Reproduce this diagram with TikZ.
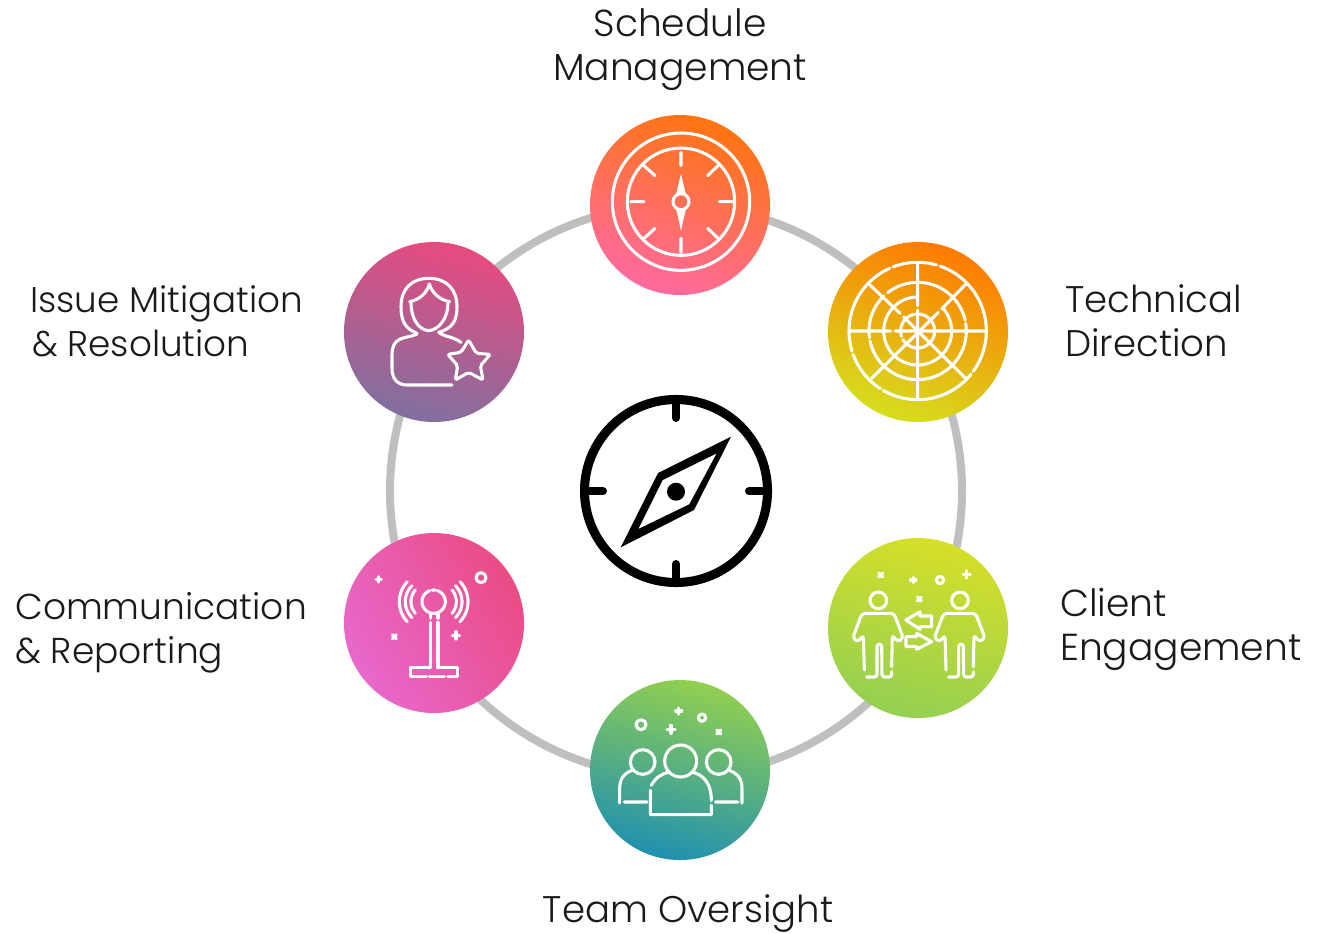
\documentclass[tikz,border=0pt]{standalone}
\usepackage{fontspec}
\setmainfont{Poppins Light}
\tikzset{
  ring/.style={draw=ringgrey,line width=6pt},
  disc/.style={circle,minimum size=135pt,inner sep=0pt,shade},
  lbl/.style={font=\fontsize{#1}{33}\selectfont,text=labeltext,inner sep=0pt},
  icon/.style={draw=white,line width=2.3pt,line cap=round,line join=round},
  icons/.style={shift={#1},x=0.25pt,y=-0.25pt},
}
\definecolor{ringgrey}{HTML}{BFBFBF}
\definecolor{labeltext}{HTML}{1A1A1A}
\definecolor{orangeA}{HTML}{FF7510}
\definecolor{pinkA}{HTML}{FF6AA0}
\definecolor{orangeB}{HTML}{FF7A00}
\definecolor{yellowB}{HTML}{D6DE1E}
\definecolor{yellowC}{HTML}{D6DF28}
\definecolor{greenC}{HTML}{94D052}
\definecolor{greenD}{HTML}{92D050}
\definecolor{midD}{HTML}{74BC84}
\definecolor{tealD}{HTML}{2090B0}
\definecolor{pinkE}{HTML}{EA4C85}
\definecolor{magentaE}{HTML}{E868CC}
\definecolor{pinkF}{HTML}{E84A80}
\definecolor{purpleF}{HTML}{80709F}
\newcommand\mkplus[3]{\draw[icon] (#1-#3,#2)--(#1+#3,#2) (#1,#2-#3)--(#1,#2+#3);}
\newcommand\mkcross[3]{\draw[icon] (#1-#3,#2-#3)--(#1+#3,#2+#3) (#1+#3,#2-#3)--(#1-#3,#2+#3);}
\newcommand\rarc[5]{plot[domain=#4:#5,samples=40,smooth] ({#1+#3*cos(\x)},{#2+#3*sin(\x)})}
\begin{document}
\begin{tikzpicture}[x=0.75pt,y=-0.75pt]
\useasboundingbox (0,0) rectangle (1319,933);
\fill[white] (0,0) rectangle (1319,933);
% ring
\coordinate (hub) at (676,491);
\draw[ring] (hub) circle[radius=286];
% discs
\node[disc,top color=orangeA,bottom color=pinkA,shading angle=-20] (schedule) at (680,205) {};
\node[disc,top color=orangeB,bottom color=yellowB,shading angle=-20] (technical) at (918,332) {};
\node[disc,top color=yellowC,bottom color=greenC,shading angle=-15] (client) at (918,628) {};
\node[disc,top color=greenD,middle color=midD,bottom color=tealD,shading angle=-15] (team) at (680,770) {};
\node[disc,top color=pinkE,bottom color=magentaE,shading angle=-60] (comm) at (434,623) {};
\node[disc,top color=pinkF,bottom color=purpleF,shading angle=-15] (issue) at (434,332) {};
% labels
\node[lbl=28.2,align=center] (lschedule) at (680,50) {Schedule\\Management};
\node[lbl=27.8,align=left,anchor=west] (ltechnical) at (1065,321) {Technical\\Direction};
\node[lbl=28.2,align=left,anchor=west] (lclient) at (1060,629) {Client\\Engagement};
\node[lbl=27.8] (lteam) at (688,914) {Team Oversight};
\node[lbl=27,align=left,anchor=west] (lcomm) at (15,633) {Communication\\\& Reporting};
\node[lbl=26.8,align=left,anchor=west] (lissue) at (30,321) {Issue Mitigation\\\hspace*{1.5pt}\& Resolution};
% central compass
\draw[line width=6.8pt] (hub) circle[radius=91.5];
\draw[line width=6pt,line cap=round] (676,402)--(676,418) (676,564)--(676,580) (587,491)--(603,491) (749,491)--(765,491);
\fill[even odd rule] (731,436.7)--(658,473)--(620.7,547.3)--(694,510)--cycle
  (716.7,453.3)--(662.7,480)--(638.3,529)--(689.3,504.3)--cycle;
\fill (676,491.7) circle[radius=9];
% schedule icon
\begin{scope}[icons={(580,105)}]
\draw[icon] (303,290) circle[radius=206] (303,290) circle[radius=161] (303,290) circle[radius=24];
\draw[icon] (303,142)--(303,182) (303,400)--(303,442) (152,290)--(192,290) (418,290)--(458,290)
  (192,182)--(225,212) (414,182)--(383,212) (192,400)--(225,370) (414,400)--(383,370);
\fill[white] (303,206)--(311,240)--(318,268)--(288,268)--(295,240)--cycle;
\fill[white] (303,378)--(311,340)--(318,312)--(288,312)--(295,340)--cycle;
\end{scope}
% technical icon
\begin{scope}[icons={(820,235)}]
\draw[icon] \rarc{293}{288}{206}{-71}{36} \rarc{293}{288}{206}{39}{120} \rarc{293}{288}{206}{123}{160}
  \rarc{293}{288}{206}{163}{246} \rarc{293}{288}{206}{249}{286};
\draw[icon] \rarc{293}{288}{146}{-128}{-13} \rarc{293}{288}{146}{-9}{168} \rarc{293}{288}{146}{172}{226};
\draw[icon] \rarc{293}{288}{102}{-40}{68} \rarc{293}{288}{102}{71}{222} \rarc{293}{288}{102}{228}{268};
\draw[icon] \rarc{293}{288}{51}{-100}{150} \rarc{293}{288}{51}{162}{255};
\draw[icon] (88,288)--(212,288) (225,288)--(498,288) (293,84)--(293,212) (293,225)--(293,490)
  (150,150)--(240,235) (250,245)--(437,430) (437,148)--(365,222) (355,232)--(155,430);
\end{scope}
% client icon
\begin{scope}[icons={(820,530)}]
\foreach \dx in {0,245}{
\begin{scope}[xshift=\dx*0.25pt]
\draw[icon] (175,211) circle[radius=25];
\draw[icon,rounded corners=2.5pt] (133,420)--(130,315)--(114,336)--(98,324)--(126,250)--(222,250)--(250,324)--(234,336)--(217,315)--(215,410);
\draw[icon,rounded corners=2pt] (140,441)--(171,441)--(171,342)--(185,342)--(186,441)--(215,441)--(215,425);
\end{scope}}
\draw[icon] (258,270)--(300,245)--(300,258)--(335,258)--(335,290)--(300,290)--(300,298)--cycle;
\draw[icon] (335,335)--(290,310)--(290,320)--(258,320)--(258,350)--(290,350)--(290,358)--cycle;
\mkcross{182}{135}{6}\mkplus{280}{150}{8}\mkplus{440}{133}{11}\mkcross{298}{207}{6}
\draw[icon] (360,150) circle[radius=11];
\end{scope}
% team icon
\begin{scope}[icons={(582,672)}]
\draw[icon] (296,267) circle[radius=48] (182,270) circle[radius=37] (410,270) circle[radius=37];
\draw[icon] (388,400)--(388,428)--(205,428)--(205,355) (208,340) .. controls (222,315) and (240,305) .. (262,300)
  (330,300) .. controls (365,308) and (388,335) .. (388,385);
\draw[icon] (150,295) .. controls (125,305) and (113,320) .. (113,350)--(113,393) (127,390)--(195,390);
\draw[icon] (442,295) .. controls (467,305) and (480,320) .. (480,350)--(480,393) (400,390)--(468,390);
\draw[icon] (177,158) circle[radius=15] (360,137) circle[radius=11];
\mkplus{290}{117}{9}\mkplus{267}{172}{12}\mkcross{410}{180}{6}
\end{scope}
% comm icon
\begin{scope}[icons={(337,525)}]
\draw[icon] \rarc{290}{230}{35}{-70}{250} \rarc{290}{230}{35}{262}{280};
\draw[icon] (280,268)--(280,280) (303,268)--(303,280) (280,292)--(280,428) (303,292)--(303,428)--(362,428)--(362,455)--(332,455)
  (322,455)--(277,455) (268,455)--(220,455)--(220,428)--(280,428);
\draw[icon] \rarc{275.6}{230}{53.6}{139.3}{220.7} \rarc{272.6}{230}{67.6}{135}{225} \rarc{274}{230}{87}{136.4}{223.6};
\draw[icon] \rarc{304.4}{230}{53.6}{-40.7}{40.7} \rarc{307.4}{230}{67.6}{-45}{45} \rarc{306}{230}{87}{-43.6}{43.6};
\draw[icon] (432,158) circle[radius=15];
\mkplus{125}{163}{8}\mkcross{172}{335}{6}\mkplus{357}{331}{11}
\end{scope}
% issue icon
\begin{scope}[icons={(337,235)}]
\draw[icon] (240,295) .. controls (205,280) and (192,260) .. (192,215) .. controls (192,160) and (225,130) .. (276,130)
  .. controls (330,130) and (360,165) .. (360,215) .. controls (360,260) and (345,280) .. (305,292);
\draw[icon] (277,147) .. controls (270,175) and (245,195) .. (218,200) (277,147) .. controls (285,175) and (310,195) .. (338,200);
\draw[icon] (222,205) .. controls (222,250) and (245,285) .. (275,287) .. controls (305,285) and (333,250) .. (333,205);
\draw[icon] (240,297) .. controls (225,305) and (205,305) .. (190,312) .. controls (172,320) and (165,335) .. (165,360)--(165,400)
  .. controls (165,430) and (180,450) .. (210,450)--(345,450) (305,292) .. controls (320,305) and (350,305) .. (372,322);
\draw[icon,rounded corners=1.5pt] (395,315)--(418,355)--(460,358)--(430,392)--(438,435)--(395,412)--(355,435)--(362,392)--(332,358)--(372,352)--cycle;
\end{scope}
\end{tikzpicture}
\end{document}
